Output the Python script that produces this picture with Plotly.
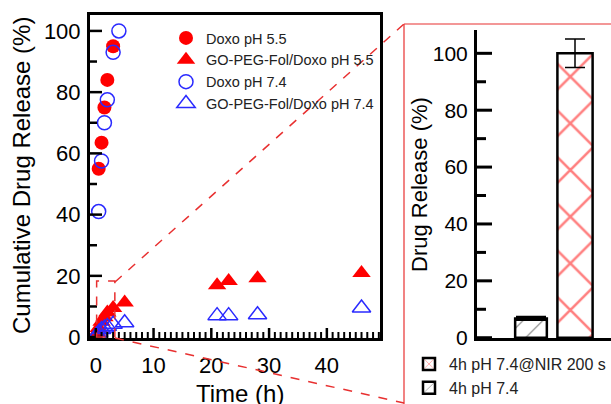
import plotly.graph_objects as go

W, H = 611, 404

# ---------------- data ----------------
doxo55_t = [0.5, 1, 1.5, 2, 3]
doxo55_r = [55, 63.5, 75, 84, 95]

gpf55_t = [0.25, 0.5, 1, 1.5, 2, 3, 5, 21, 23, 28, 46]
gpf55_r = [1.5, 3, 5, 6.5, 8, 9.5, 11.3, 16.9, 18.3, 19.2, 20.9]

doxo74_t = [0.5, 1, 1.5, 2, 3, 4]
doxo74_r = [41, 57.5, 70, 77.5, 93, 100]

gpf74_t = [0.25, 0.5, 1, 1.5, 2, 3, 5, 21, 23, 28, 46]
gpf74_r = [0.8, 1.5, 2.5, 3, 3.5, 4.2, 4.7, 7, 7, 7.3, 9.5]

bar_labels = ["4h pH 7.4", "4h pH 7.4@NIR 200 s"]
bar_pos = [0, 1]
bar_values = [6.8, 100]
bar_errors = [0.5, 5]

# tick positions
x_major = [0, 10, 20, 30, 40]
x_minor = [v for v in range(0, 50) if v % 10 != 0]
y_major = [0, 20, 40, 60, 80, 100]
y_minor = [10, 30, 50, 70, 90]

# axis ranges
X1 = [-1, 49.2]
Y1 = [-0.3, 105.2]
X2 = [-1.227, 1.818]
Y2 = [-0.1, 108.2]

# ---------------- helpers ----------------
def px(x):
    return x / W


def py(y):
    return 1 - y / H


FONT = "Liberation Sans, Arial, sans-serif"
RED = "#ff0000"
BLUE = "#2a2aff"

fig = go.Figure()

fig.add_trace(go.Scatter(x=doxo55_t, y=doxo55_r, mode="markers", name="Doxo pH 5.5",
                         marker=dict(symbol="circle", size=14, color=RED),
                         xaxis="x", yaxis="y", legend="legend"))
fig.add_trace(go.Scatter(x=gpf55_t, y=gpf55_r, mode="markers", name="GO-PEG-Fol/Doxo pH 5.5",
                         marker=dict(symbol="triangle-up", size=16, color=RED),
                         xaxis="x", yaxis="y", legend="legend"))
fig.add_trace(go.Scatter(x=doxo74_t, y=doxo74_r, mode="markers", name="Doxo pH 7.4",
                         marker=dict(symbol="circle-open", size=14, color=BLUE, line=dict(width=1.5)),
                         xaxis="x", yaxis="y", legend="legend"))
fig.add_trace(go.Scatter(x=gpf74_t, y=gpf74_r, mode="markers", name="GO-PEG-Fol/Doxo pH 7.4",
                         marker=dict(symbol="triangle-up-open", size=16, color=BLUE, line=dict(width=1.5)),
                         xaxis="x", yaxis="y", legend="legend"))

# bars
fig.add_trace(go.Bar(x=[bar_pos[0]], y=[bar_values[0]], name=bar_labels[0], width=0.72,
                     error_y=dict(type="data", array=[bar_errors[0]], color="black", thickness=2.5, width=15),
                     marker=dict(color="white", line=dict(color="black", width=2.5),
                                 pattern=dict(shape="/", fgcolor="black", bgcolor="white", size=14, solidity=0.08)),
                     xaxis="x2", yaxis="y2", legend="legend2", legendrank=2))
fig.add_trace(go.Bar(x=[bar_pos[1]], y=[bar_values[1]], name=bar_labels[1], width=0.8,
                     error_y=dict(type="data", array=[bar_errors[1]], color="black", thickness=1.5, width=10),
                     marker=dict(color="white", line=dict(color="black", width=2.5),
                                 pattern=dict(shape="x", fgcolor=RED, bgcolor="white", size=33, solidity=0.15)),
                     xaxis="x2", yaxis="y2", legend="legend2", legendrank=1))

tickfont = dict(family=FONT, size=22, color="black")

fig.update_layout(
    width=W, height=H,
    margin=dict(l=0, r=0, t=0, b=0, autoexpand=False),
    paper_bgcolor="white", plot_bgcolor="white",
    font=dict(family=FONT, color="black"),
    showlegend=True,
    xaxis=dict(domain=[px(90), px(380)], range=X1, anchor="y",
               tickmode="array", tickvals=x_major, ticks="",
               showline=True, linecolor="black", linewidth=3, mirror=True,
               showgrid=False, zeroline=False, tickfont=tickfont, ticklabelstandoff=6),
    yaxis=dict(domain=[py(338), py(15)], range=Y1, anchor="x",
               tickmode="array", tickvals=y_major, ticks="",
               showline=True, linecolor="black", linewidth=3, mirror=True,
               showgrid=False, zeroline=False, tickfont=tickfont, ticklabelstandoff=2),
    xaxis2=dict(domain=[px(477), 1], range=X2, anchor="y2",
                showticklabels=False, ticks="", showline=True, linecolor="black", linewidth=3,
                showgrid=False, zeroline=False),
    yaxis2=dict(domain=[py(338), py(30)], range=Y2, anchor="x2",
                tickmode="array", tickvals=y_major, ticks="",
                showline=True, linecolor="black", linewidth=3,
                showgrid=False, zeroline=False, tickfont=dict(family=FONT, size=21, color="black"),
                ticklabelstandoff=2),
    legend=dict(x=px(166), y=py(22), xanchor="left", yanchor="top", bgcolor="rgba(0,0,0,0)",
                font=dict(family=FONT, size=14.5, color="#222"), tracegroupgap=0, itemwidth=30),
    legend2=dict(x=1, y=py(347), xanchor="right", yanchor="top", bgcolor="rgba(0,0,0,0)",
                 font=dict(family=FONT, size=16, color="#222"), tracegroupgap=0, itemwidth=30),
    barmode="overlay",
)

# inside tick marks, placed through the axes' own scales (lengths in pixels)
def xtick(v, length, width):
    fig.add_shape(type="line", xref="x", x0=v, x1=v, yref="y", ysizemode="pixel", yanchor=Y1[0],
                  y0=0, y1=length, line=dict(color="black", width=width))


def ytick(v, length, width, xr="x", yr="y", anchor=X1[0]):
    fig.add_shape(type="line", yref=yr, y0=v, y1=v, xref=xr, xsizemode="pixel", xanchor=anchor,
                  x0=0, x1=length, line=dict(color="black", width=width))


for v in x_major:
    xtick(v, 10, 2.5)
for v in x_minor:
    xtick(v, 6, 2)
for v in y_major:
    ytick(v, 12, 2.5)
for v in y_minor:
    ytick(v, 7, 2.5)
for v in y_major:
    ytick(v, 15, 3, "x2", "y2", X2[0])
for v in y_minor:
    ytick(v, 9, 3, "x2", "y2", X2[0])

# axis titles
fig.add_annotation(text="Cumulative Drug Release (%)", xref="paper", yref="paper",
                   x=px(22), y=py(176), textangle=-90, showarrow=False,
                   font=dict(family=FONT, size=24, color="black"), xanchor="center", yanchor="middle")
fig.add_annotation(text="Time (h)", xref="paper", yref="paper",
                   x=px(240), y=0, yshift=-5, showarrow=False,
                   font=dict(family=FONT, size=24, color="black"), xanchor="center", yanchor="bottom")
fig.add_annotation(text="Drug Release (%)", xref="paper", yref="paper",
                   x=px(420), y=py(185), textangle=-90, showarrow=False,
                   font=dict(family=FONT, size=22, color="black"), xanchor="center", yanchor="middle")

# zoom indicator (all kept inside the page)
dash_line = dict(color="#e83030", width=1.5, dash="dash")
solid_red = dict(color="#e83030", width=1.2)
fig.add_shape(type="rect", xref="x", yref="y", x0=0.15, x1=3.3, y0=0, y1=18.3, line=dash_line)
fig.add_shape(type="line", xref="paper", yref="paper", x0=px(115), y0=py(282), x1=px(404), y1=py(24), line=dash_line)
fig.add_shape(type="line", xref="paper", yref="paper", x0=px(115), y0=py(338), x1=px(404), y1=py(403), line=dash_line)
fig.add_shape(type="line", xref="paper", yref="paper", x0=px(404), y0=py(24), x1=px(404), y1=0, line=solid_red)
fig.add_shape(type="line", xref="paper", yref="paper", x0=px(404), y0=py(24), x1=1, y1=py(24), line=solid_red)

fig.write_html("out.html")
